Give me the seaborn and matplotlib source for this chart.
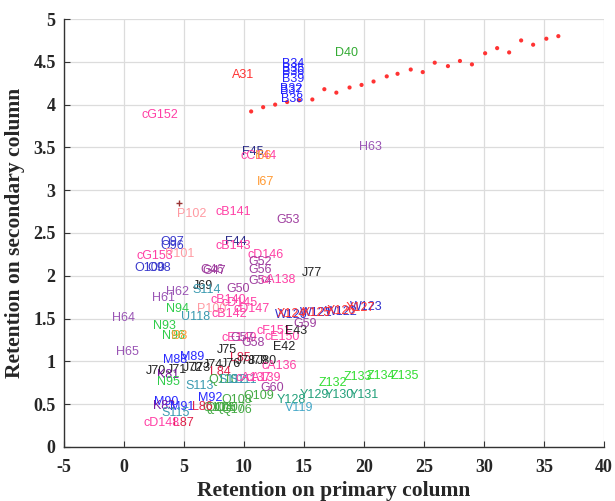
import matplotlib
matplotlib.use("Agg")
import matplotlib.pyplot as plt
import seaborn as sns
import pandas as pd

# Compound labels with their retention on the primary (x) and secondary (y) column
labels = [
    "A31", "B34", "B35", "B36", "B39", "B32", "B37", "B38", "D40", "cG152",
    "F45", "cC144", "I66", "H63", "I67", "P102", "cB141", "G53", "O97", "O96",
    "F44", "cB143", "cG153", "P101", "cD146", "O100", "O98", "G46", "G47", "G52",
    "G56", "G54", "cA138", "J77", "J69", "H62", "S114", "G50", "H61", "cB140",
    "cD145", "N94", "P100", "cB142", "cD147", "U118", "H64", "N93", "N96", "I98",
    "H65", "M88", "M89", "J75", "cE149", "cE150", "cF151", "G57", "G58", "E43",
    "G59", "E42", "L85", "J76", "J78", "J79", "J80", "cA136", "J70", "J71",
    "J72", "J73", "J74", "K81", "N95", "S113", "L84", "Q110", "S112", "S111",
    "cA137", "cA139", "G60", "Q109", "Q108", "Q107", "Q106", "Q105", "Q104", "Y128",
    "Y129", "Y130", "Y131", "V119", "M90", "K83", "M91", "M92", "S115", "L86",
    "L87", "cD148", "Z132", "Z133", "Z134", "Z135", "W120", "W121", "W122", "W123",
    "X124", "X125", "X126", "X127",
]
primary = [
    9.0, 13.2, 13.2, 13.2, 13.2, 13.0, 13.0, 13.1, 17.6, 1.47,
    9.8, 9.75, 10.9, 19.6, 11.05, 4.44, 7.64, 12.7, 3.06, 3.06,
    8.4, 7.64, 1.06, 3.4, 10.3, 0.83, 1.94, 6.33, 6.5, 10.36,
    10.4, 10.4, 11.4, 14.8, 5.72, 3.5, 5.72, 8.56, 2.3, 7.25,
    8.1, 3.5, 6.05, 7.3, 9.1, 4.72, -1.03, 2.44, 3.14, 3.9,
    -0.67, 3.28, 4.67, 7.72, 8.1, 11.7, 11.05, 8.9, 9.8, 13.4,
    14.1, 12.44, 8.83, 8.1, 9.3, 10.3, 11.1, 11.5, 1.83, 3.6,
    4.94, 5.6, 6.6, 2.72, 2.78, 5.08, 7.17, 7.0, 7.86, 8.8,
    9.3, 10.1, 11.33, 9.94, 8.14, 7.5, 8.14, 6.8, 6.5, 12.7,
    14.67, 16.75, 18.8, 13.4, 2.5, 2.44, 3.83, 6.2, 3.14, 5.64,
    4.1, 1.6, 16.2, 18.3, 20.2, 22.2, 12.6, 14.67, 16.75, 18.8,
    12.7, 14.8, 16.9, 18.5,
]
secondary = [
    4.35, 4.48, 4.42, 4.38, 4.30, 4.18, 4.16, 4.07, 4.60, 3.88,
    3.45, 3.40, 3.40, 3.51, 3.10, 2.72, 2.74, 2.65, 2.40, 2.35,
    2.40, 2.35, 2.23, 2.26, 2.24, 2.09, 2.09, 2.07, 2.06, 2.16,
    2.07, 1.94, 1.95, 2.03, 1.88, 1.81, 1.83, 1.85, 1.74, 1.72,
    1.68, 1.61, 1.61, 1.55, 1.61, 1.52, 1.51, 1.41, 1.30, 1.30,
    1.11, 1.02, 1.05, 1.13, 1.27, 1.29, 1.35, 1.27, 1.21, 1.35,
    1.44, 1.17, 1.04, 0.97, 1.00, 1.00, 1.00, 0.94, 0.89, 0.90,
    0.92, 0.92, 0.96, 0.84, 0.76, 0.71, 0.88, 0.78, 0.78, 0.78,
    0.80, 0.81, 0.69, 0.59, 0.55, 0.45, 0.43, 0.45, 0.46, 0.55,
    0.61, 0.61, 0.61, 0.46, 0.53, 0.48, 0.47, 0.57, 0.40, 0.47,
    0.28, 0.28, 0.75, 0.82, 0.83, 0.83, 1.54, 1.56, 1.58, 1.63,
    1.55, 1.57, 1.59, 1.62,
]

# Fitted trend points
trend_x = [10.6, 11.6, 12.6, 13.6, 14.6, 15.7, 16.7, 17.7, 18.8, 19.8, 20.8, 21.9, 22.8,
           23.9, 24.9, 25.9, 27.0, 28.0, 29.0, 30.1, 31.1, 32.1, 33.1, 34.1, 35.2, 36.2]
trend_y = [3.92, 3.97, 4.00, 4.03, 4.05, 4.06, 4.18, 4.14, 4.20, 4.23, 4.27, 4.33, 4.36,
           4.41, 4.38, 4.49, 4.45, 4.51, 4.47, 4.60, 4.66, 4.61, 4.75, 4.70, 4.77, 4.80]

# Reference marker
ref_x = [4.58]
ref_y = [2.85]

x_ticks = [-5, 0, 5, 10, 15, 20, 25, 30, 35, 40]
y_ticks = [0, 0.5, 1, 1.5, 2, 2.5, 3, 3.5, 4, 4.5, 5]

group_colors = {
    "A": "#ff3333", "B": "#2222ff", "D": "#33aa33", "E": "#222222", "F": "#2a2a88",
    "G": "#a040a0", "H": "#9a55b5", "I": "#ff9a33", "J": "#222222", "K": "#7a1aa0",
    "L": "#e0204a", "M": "#2a2aff", "N": "#2fcc4a", "O": "#3a3acc", "P": "#ff9aa2",
    "Q": "#44aa44", "S": "#3a9ab0", "U": "#3a9ab0", "V": "#44a8c8", "W": "#3030cc",
    "X": "#ff3030", "Y": "#22a07a", "Z": "#33dd33",
}
compound_pink = "#ff3fa5"


def label_color(name):
    if name.startswith("c"):
        return compound_pink
    return group_colors.get(name[0], "#222222")


sns.set_style("whitegrid")
plt.rcParams["font.family"] = ["Liberation Sans", "DejaVu Sans"]
plt.rcParams["axes.unicode_minus"] = False

fig = plt.figure(figsize=(6.15, 5.01), dpi=100)
ax = fig.add_axes([0.104, 0.108, 0.878, 0.854])

trend = pd.DataFrame({"x": trend_x, "y": trend_y})
sns.scatterplot(data=trend, x="x", y="y", ax=ax, color="#ff3333", s=9,
                marker="o", edgecolor="none", zorder=3)
ref = pd.DataFrame({"x": ref_x, "y": ref_y})
sns.scatterplot(data=ref, x="x", y="y", ax=ax, color="#993333", s=25,
                marker="+", linewidth=1.0, zorder=3)

for name, xv, yv in zip(labels, primary, secondary):
    ax.text(xv, yv, name, color=label_color(name), fontsize=9,
            ha="left", va="center", zorder=4)

ax.set_xlim(-5, 40)
ax.set_ylim(0, 5)
ax.set_xticks(x_ticks)
ax.set_yticks(y_ticks)
ax.set_xticklabels([f"{t:g}" for t in x_ticks])
ax.set_yticklabels([f"{t:g}" for t in y_ticks])
ax.grid(True, color="#dcdcdc", linewidth=0.9)

for side in ["top", "right"]:
    ax.spines[side].set_visible(False)
for side in ["left", "bottom"]:
    ax.spines[side].set_visible(True)
    ax.spines[side].set_color("#333333")
    ax.spines[side].set_linewidth(1.0)

ax.tick_params(axis="both", direction="in", length=4, width=0.8, color="#333333",
               left=True, bottom=True)
ax.tick_params(axis="x", pad=9)
ax.tick_params(axis="y", pad=6)
serif = ["Liberation Serif", "DejaVu Serif"]
for lab in ax.get_xticklabels() + ax.get_yticklabels():
    lab.set_family(serif)
    lab.set_fontweight("bold")
    lab.set_fontsize(13)

ax.set_xlabel("Retention on primary column", family=serif, fontweight="bold",
              fontsize=15.5, labelpad=3)
ax.set_ylabel("Retention on secondary column", family=serif, fontweight="bold",
              fontsize=15.5, labelpad=6)

fig.savefig("out.png", dpi=100, facecolor="white")
